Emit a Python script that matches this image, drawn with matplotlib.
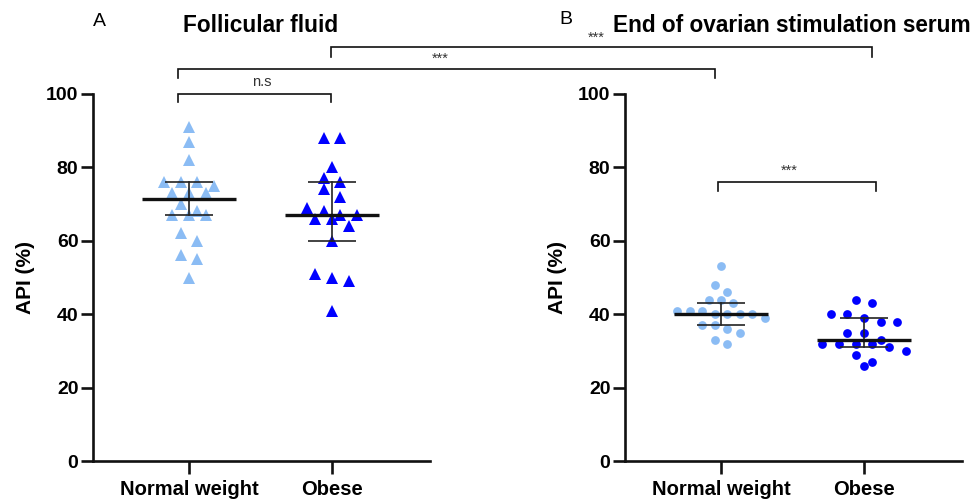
import numpy as np
import matplotlib
matplotlib.use("Agg")
import matplotlib.pyplot as plt
from math import comb

# ---------------- data ----------------
categories = ["Normal weight", "Obese"]
ff_normal = [91, 87, 82, 76, 76, 76, 75, 73, 73, 73, 70, 68, 67, 67, 67, 62, 60, 56, 55, 50]
ff_obese = [88, 88, 80, 77, 76, 74, 72, 69, 68, 67, 67, 66, 66, 64, 60, 51, 50, 49, 41]
serum_normal = [53, 48, 46, 44, 44, 43, 41, 41, 41, 40, 40, 40, 40, 39, 37, 37, 36, 35, 33, 32]
serum_obese = [44, 43, 40, 40, 39, 38, 38, 35, 35, 33, 32, 32, 32, 32, 31, 30, 29, 27, 26]
yticks = [0, 20, 40, 60, 80, 100]
panel_titles = ["Follicular fluid", "End of ovarian stimulation serum"]
panel_letters = ["A", "B"]
ylabel = "API (%)"
sig_labels = ["n.s", "***", "***", "***"]

LIGHT = "#8BBCF4"
DARK = "#0000FF"

plt.rcParams["font.family"] = ["Liberation Sans", "DejaVu Sans"]


def median_ci(vals):
    s = sorted(vals)
    n = len(s)
    cdf = lambda m: sum(comb(n, i) for i in range(m + 1)) / 2 ** n
    k = 0
    while cdf(k) <= 0.025:
        k += 1
    return float(np.median(s)), s[k - 1], s[n - k]


def swarm(vals, tol, maxw=0.61, base=0.117):
    idx = sorted(range(len(vals)), key=lambda i: -vals[i])
    rows, cur, start = [], [], None
    for i in idx:
        if start is None or vals[i] >= start - tol:
            if start is None:
                start = vals[i]
            cur.append(i)
        else:
            rows.append(cur)
            cur, start = [i], vals[i]
    rows.append(cur)
    nmax = max(len(r) for r in rows)
    step = base if nmax < 2 else min(base, maxw / (nmax - 1))
    off = np.zeros(len(vals))
    for r in rows:
        n = len(r)
        for j, i in enumerate(r):
            off[i] = (j - (n - 1) / 2) * step
    return off


fig = plt.figure(figsize=(9.77, 5.0), dpi=100)
W, H = 977, 500
axA = fig.add_axes([93 / W, 39 / H, 337 / W, 367 / H])
axB = fig.add_axes([625 / W, 39 / H, 337 / W, 367 / H])

panels = [
    (axA, [ff_normal, ff_obese], "^", 8.0, 2.5),
    (axB, [serum_normal, serum_obese], "o", 6.3, 2.0),
]

for ax, groups, mk, ms, tol in panels:
    ax.set_xlim(-0.671, 1.685)
    ax.set_ylim(0, 100)
    for i, vals in enumerate(groups):
        col = LIGHT if i == 0 else DARK
        xs = i + swarm(vals, tol)
        ax.plot(xs, vals, linestyle="none", marker=mk, ms=ms, color=col,
                markeredgewidth=0, clip_on=False, zorder=2)
        med, lo, hi = median_ci(vals)
        ax.plot([i - 0.33, i + 0.33], [med, med], color="#111111", lw=2.4,
                zorder=4, solid_capstyle="butt")
        ax.plot([i, i], [lo, hi], color="#222222", lw=1.2, zorder=3)
        for v in (lo, hi):
            ax.plot([i - 0.165, i + 0.165], [v, v], color="#222222", lw=1.2,
                    zorder=3, solid_capstyle="butt")
    for side in ("top", "right"):
        ax.spines[side].set_visible(False)
    for side in ("left", "bottom"):
        ax.spines[side].set_linewidth(1.9)
        ax.spines[side].set_color("#111111")
    ax.set_xticks(range(len(categories)))
    ax.set_xticklabels(categories, fontsize=14.5, fontweight="bold")
    ax.set_yticks(yticks)
    ax.set_yticklabels([str(t) for t in yticks], fontsize=14, fontweight="bold")
    ax.tick_params(axis="both", direction="out", length=9, width=1.9,
                   color="#111111")
    ax.tick_params(axis="y", pad=1.5)
    ax.tick_params(axis="x", pad=5)
    ax.set_ylabel(ylabel, fontsize=15, fontweight="bold")
    ax.yaxis.set_label_coords(-0.172, 0.5)

# titles and letters
fig.text(99 / W, 1 - 21 / H, panel_letters[0], fontsize=14, ha="center", va="center")
fig.text(566 / W, 1 - 19 / H, panel_letters[1], fontsize=14, ha="center", va="center")
fig.text(183 / W, 1 - 25 / H, panel_titles[0], fontsize=16.3, fontweight="bold",
         ha="left", va="center")
fig.text(613 / W, 1 - 25 / H, panel_titles[1], fontsize=16.3, fontweight="bold",
         ha="left", va="center")


def b_to_a(xb):
    disp = axB.transData.transform((xb, 0))
    return axA.transData.inverted().transform(disp)[0]


def bracket(ax, x1, x2, ytop, ydrop, label, ly, fs, lx_shift=0.0):
    ax.plot([x1, x1, x2, x2], [ydrop, ytop, ytop, ydrop], color="#111111",
            lw=1.2, clip_on=False, zorder=5, solid_joinstyle="miter")
    ax.text((x1 + x2) / 2 + lx_shift, ly, label, fontsize=fs, ha="center",
            va="center", color="#333333", clip_on=False)


bracket(axA, -0.077, 0.993, 100, 97.8, sig_labels[0], 103.4, 10.5, 0.05)
bracket(axA, -0.077, b_to_a(-0.042), 106.8, 104.4, sig_labels[1], 109.6, 10.5, -0.04)
bracket(axA, 0.993, b_to_a(1.056), 112.8, 110.1, sig_labels[2], 115.4, 10.5, -0.04)
bracket(axB, -0.023, 1.084, 75.9, 73.6, sig_labels[3], 79.0, 10.5, -0.05)

fig.savefig("out.png", dpi=100)
